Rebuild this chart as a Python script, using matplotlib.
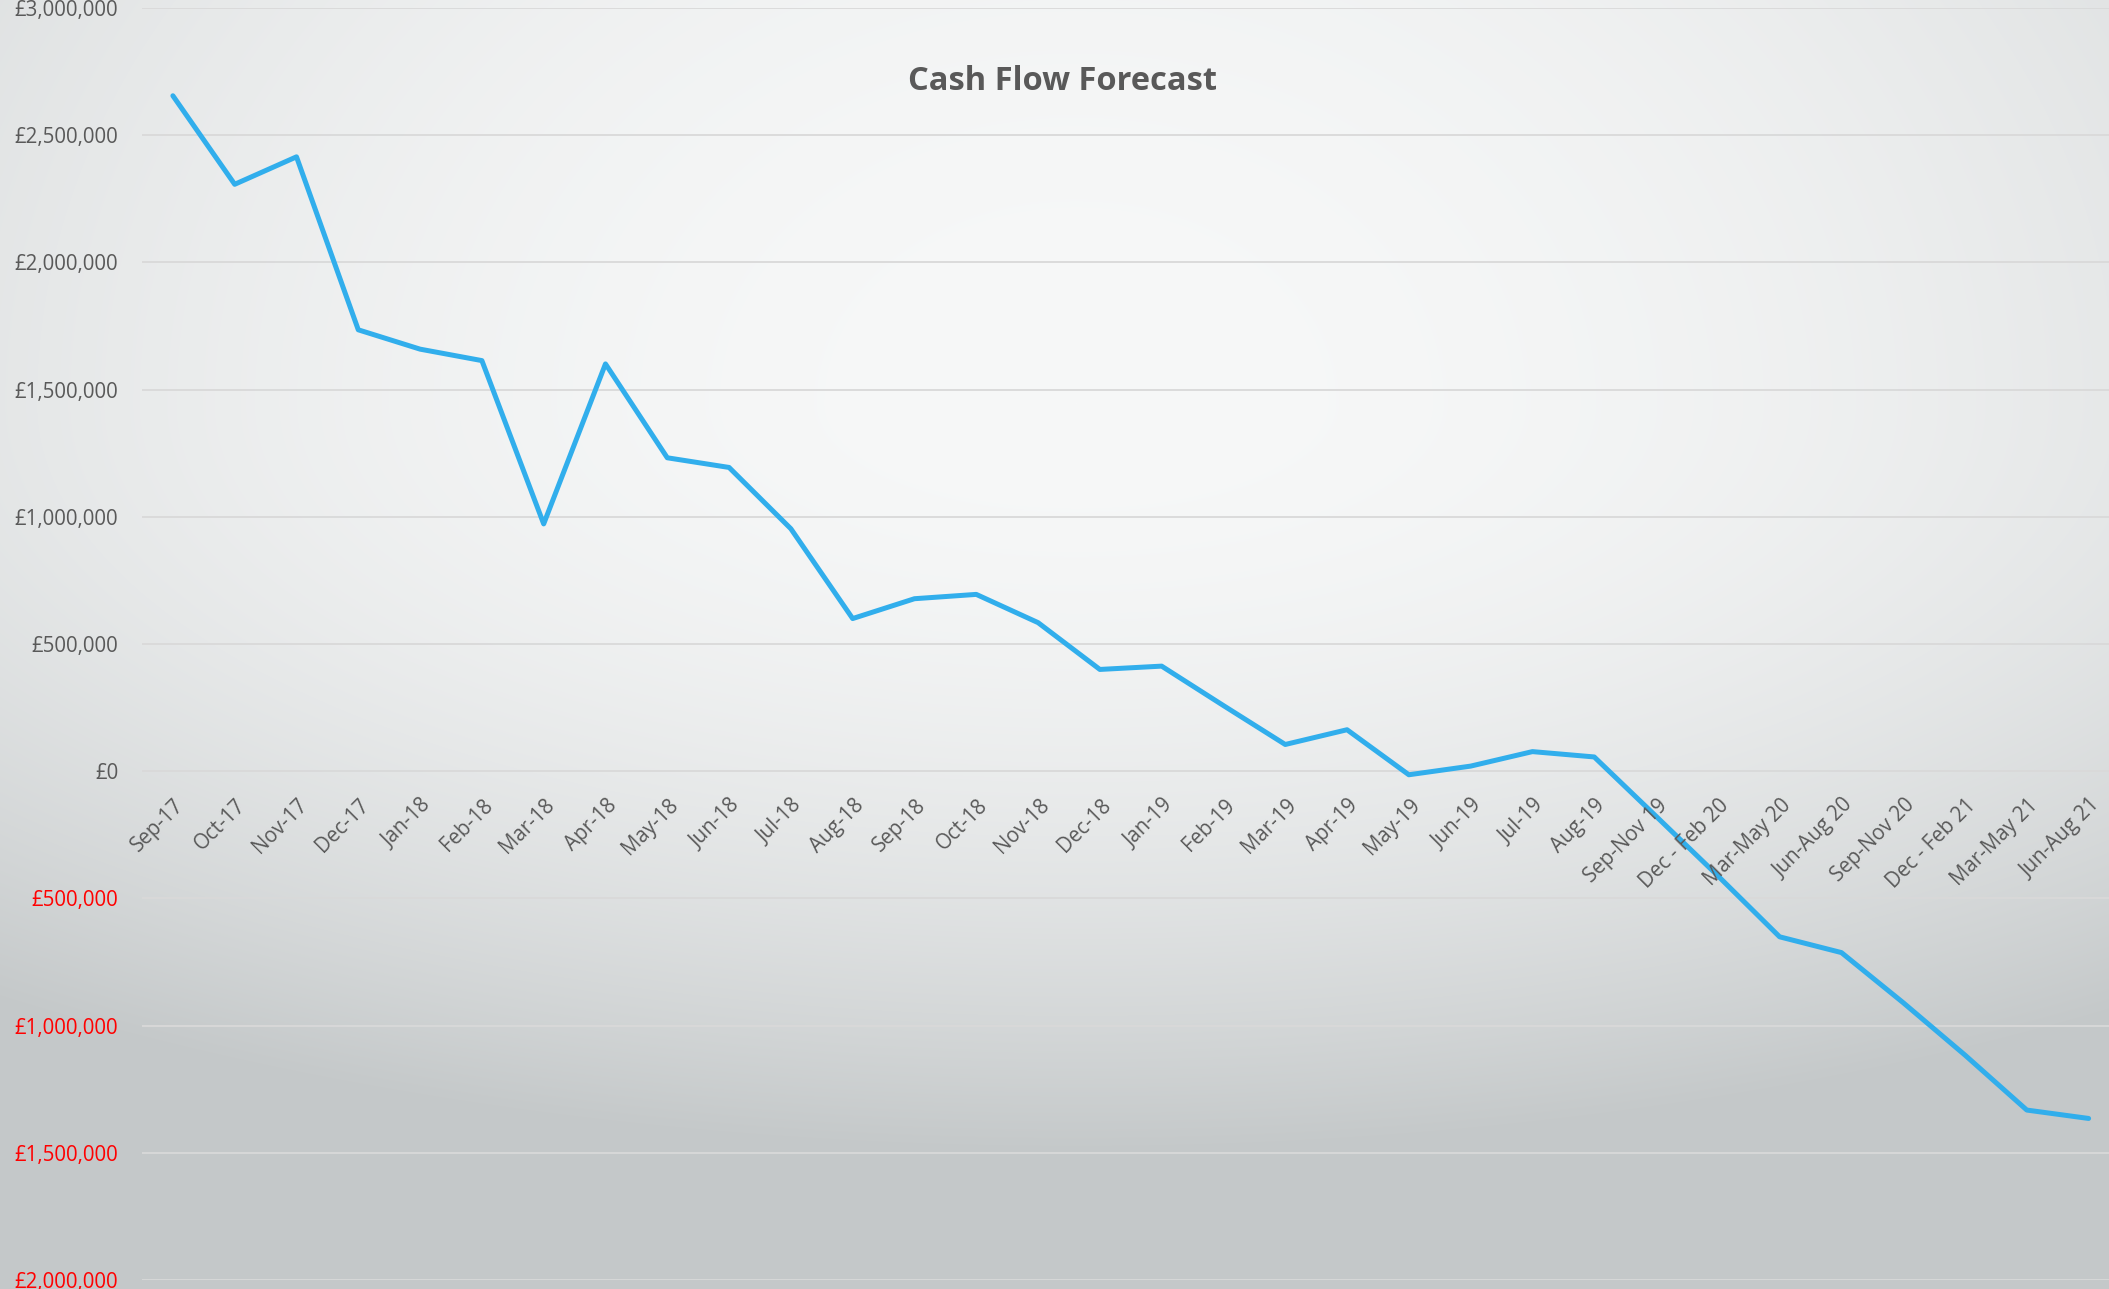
import matplotlib.pyplot as plt
import numpy as np

periods = ['Sep-17', 'Oct-17', 'Nov-17', 'Dec-17', 'Jan-18', 'Feb-18', 'Mar-18', 'Apr-18',
           'May-18', 'Jun-18', 'Jul-18', 'Aug-18', 'Sep-18', 'Oct-18', 'Nov-18', 'Dec-18',
           'Jan-19', 'Feb-19', 'Mar-19', 'Apr-19', 'May-19', 'Jun-19', 'Jul-19', 'Aug-19',
           'Sep-Nov 19', 'Dec - Feb 20', 'Mar-May 20', 'Jun-Aug 20', 'Sep-Nov 20',
           'Dec - Feb 21', 'Mar-May 21', 'Jun-Aug 21']
balance = [2655000, 2307000, 2415000, 1735000, 1659000, 1614000, 972000, 1601000,
           1232000, 1194000, 953000, 600000, 678000, 695000, 584000, 400000,
           413000, 258000, 105000, 163000, -14000, 20000, 77000, 56000,
           -177000, -411000, -651000, -713000, -910000, -1116000, -1332000, -1365000]
y_ticks = np.arange(-2000000, 3000001, 500000)

W, H = 2109, 1289
fig = plt.figure(figsize=(W / 100, H / 100), dpi=100)

# soft radial background like the Excel preset
bg = fig.add_axes([0, 0, 1, 1], zorder=-1)
yy, xx = np.mgrid[0:H, 0:W]
dx = (xx - 1076) / 1800
dy = (yy - 403) / np.where(yy > 403, 750, 1400)
t = np.clip(np.sqrt(dx ** 2 + dy ** 2), 0, 1) ** 2
c_mid = np.array([247, 248, 248]) / 255
c_edge = np.array([196, 200, 201]) / 255
img = c_mid + (c_edge - c_mid) * t[..., None]
bg.imshow(img, aspect='auto', extent=[0, 1, 0, 1])
bg.axis('off')

ax = fig.add_axes([142 / W, 9 / H, (W - 142) / W, 1272 / H])
ax.set_facecolor('none')
x = np.arange(len(periods))
ax.plot(x, balance, color='#31aeec', lw=3.6, solid_joinstyle='round', solid_capstyle='round')

ax.set_xlim(-0.5, 31.33)
ax.set_ylim(-2000000, 3000000)
for s in ax.spines.values():
    s.set_visible(False)
ax.set_xticks([])
ax.set_yticks(y_ticks)
ax.set_yticklabels([f'£{abs(v):,.0f}' for v in y_ticks], fontsize=14.8, family='Open Sans')
for lab, v in zip(ax.get_yticklabels(), y_ticks):
    lab.set_color('#ff0000' if v < 0 else '#595959')
ax.tick_params(axis='y', length=0, pad=17)
ax.yaxis.grid(True, color='#d9d9d9', lw=1.3)
ax.set_axisbelow(True)

for i, lab in enumerate(periods):
    ax.annotate(lab, xy=(i, 0), xytext=(8, -31), textcoords='offset pixels',
                rotation=45, ha='right', va='center', rotation_mode='anchor',
                fontsize=14.8, family='Open Sans', color='#595959', annotation_clip=False)

fig.text(1062 / W, 1 - 82 / H, 'Cash Flow Forecast', ha='center', va='center',
         fontsize=23.5, fontweight='bold', family='Open Sans', color='#595959')

fig.savefig('out.png', dpi=100)
